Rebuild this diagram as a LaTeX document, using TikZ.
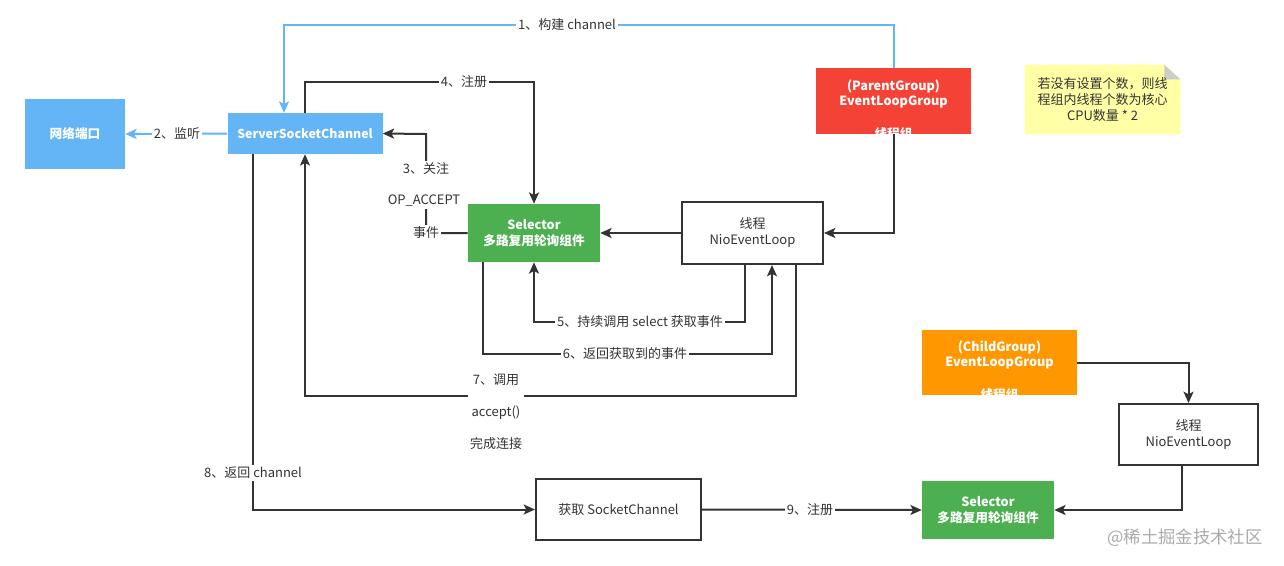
\documentclass[tikz,border=0pt]{standalone}
\usepackage{fontspec}
\setmainfont{Noto Sans CJK SC}
\usetikzlibrary{arrows.meta,calc}
\definecolor{cblue}{HTML}{64B5F6}
\definecolor{cred}{HTML}{F44336}
\definecolor{cgreen}{HTML}{4CAF50}
\definecolor{corange}{HTML}{FF9800}
\definecolor{cnote}{HTML}{FFFFA6}
\definecolor{cfold}{HTML}{CCCCCC}
\definecolor{cdark}{HTML}{333333}
\definecolor{cwm}{HTML}{ABABAB}
\begin{document}
\begin{tikzpicture}[x=0.75pt,y=-0.75pt,
  txt/.style={font=\fontsize{9.75}{12}\selectfont, text=cdark, inner sep=1pt},
  lbl/.style={txt, fill=white, inner sep=1.5pt},
  fillbox/.style={draw=none, text=white, font=\fontsize{9.5}{12}\selectfont\bfseries, align=center, inner sep=0pt},
  wtxt/.style={text=white, font=\fontsize{9.5}{12}\selectfont\bfseries, inner sep=0pt},
  plainbox/.style={draw=cdark, line width=1.5pt, fill=white, text=cdark, font=\fontsize{9.75}{12}\selectfont, align=center, inner sep=0pt},
  tip/.style={-{Stealth[length=8.5pt,width=7.5pt,inset=2pt]}},
  dl/.style={draw=cdark, line width=1.5pt, tip},
  bl/.style={draw=cblue, line width=1.5pt, tip},
]
\useasboundingbox (0,0) rectangle (1284,565);
\fill[white] (0,0) rectangle (1284,565);

% boxes
\node[fillbox, fill=cblue, minimum width=75pt, minimum height=52.5pt] (port) at (75,134) {网络端口};
\node[fillbox, fill=cblue, minimum width=116.25pt, minimum height=30.75pt, font=\fontsize{9.25}{12}\selectfont\bfseries] (ssc) at (305,133.5) {ServerSocketChannel};
\node[fillbox, fill=cred, minimum width=116.25pt, minimum height=49.5pt] (red) at (893.5,101) {};
\node[draw=none, minimum width=116.25pt, minimum height=51.75pt, inner sep=0pt] (note) at (1102.5,99.5) {};
\node[fillbox, fill=cgreen, minimum width=99pt, minimum height=43.5pt] (sel1) at (534,233) {Selector\\多路复用轮询组件};
\node[plainbox, minimum width=105.75pt, minimum height=46.5pt] (nel1) at (752.5,233) {线程\\NioEventLoop};
\node[fillbox, fill=corange, minimum width=116.25pt, minimum height=48.75pt] (orange) at (999.5,362.5) {};
\node[plainbox, minimum width=104.25pt, minimum height=45.75pt] (nel2) at (1188.5,434.5) {线程\\NioEventLoop};
\node[fillbox, fill=cgreen, minimum width=99pt, minimum height=43.5pt] (sel2) at (988,510) {Selector\\多路复用轮询组件};
\node[plainbox, minimum width=123.75pt, minimum height=45.75pt] (getsc) at (618.5,509.5) {获取 SocketChannel};

% group box texts (clipped)
\begin{scope}
\clip (red.south west) rectangle (red.north east);
\node[wtxt] (redt1) at (893.5,86) {(ParentGroup)};
\node[wtxt] (redt2) at (893.5,102) {EventLoopGroup};
\node[wtxt] (redt3) at (893.5,134) {线程组};
\end{scope}
\begin{scope}
\clip (orange.south west) rectangle (orange.north east);
\node[wtxt] (ort1) at (999.5,347) {(ChildGroup)};
\node[wtxt] (ort2) at (999.5,363) {EventLoopGroup};
\node[wtxt] (ort3) at (999.5,395) {线程组};
\end{scope}

% note
\fill[cnote] (note.north west) -- ([xshift=-12pt]note.north east) -- ([yshift=-11pt]note.north east) -- (note.south east) -- (note.south west) -- cycle;
\fill[cfold] ([xshift=-12pt]note.north east) -- ([yshift=-11pt]note.north east) -- ([xshift=-12pt,yshift=-11pt]note.north east) -- cycle;
\node[txt, align=center] (notet) at (1102.5,99.5) {若没有设置个数，则线\\程组内线程个数为核心\\CPU数量 * 2};

% coordinates
\coordinate (t1) at (284,25);
\coordinate (t3) at (426,134);
\coordinate (t4) at (305,82);
\coordinate (t5) at (745,322);
\coordinate (t6a) at (483,354);
\coordinate (t6b) at (772,354);
\coordinate (t7) at (796,396);
\coordinate (t8) at (253,509.5);
\coordinate (t13) at (1182,510);

% connectors
\draw[bl] (red.north) |- (t1) -- (t1 |- ssc.north);
\draw[bl] (ssc.west) -- (port.east);
\draw[dl] (sel1.west) -| (t3) -- (ssc.east);
\draw[dl] (t4 |- ssc.north) -- (t4) -| (sel1.north);
\draw[dl] (t5 |- nel1.south) -- (t5) -| (sel1.south);
\draw[dl] (t6a |- sel1.south) -- (t6a) -- (t6b) -- (t6b |- nel1.south);
\draw[dl] (t7 |- nel1.south) -- (t7) -| (ssc.south);
\draw[dl] (t8 |- ssc.south) -- (t8) -- (getsc.west);
\draw[dl] (getsc.east) -- (sel2.west);
\draw[dl] (nel1.west) -- (sel1.east);
\draw[dl] (red.south) |- (nel1.east);
\draw[dl] (orange.east) -| (nel2.north);
\draw[dl] (t13 |- nel2.south) -- (t13) -- (sel2.east);

% labels
\node[lbl] (l1) at (567,25) {1、构建 channel};
\node[lbl] (l2) at (177,134) {2、监听};
\node[fill=white, minimum width=9pt, minimum height=24pt, inner sep=0pt] (l3gap) at (426,186) {};
\node[lbl] (l3a) at (426,169) {3、关注};
\node[lbl] (l3b) at (424,201) {OP\_ACCEPT};
\node[lbl] (l3c) at (426,233) {事件};
\node[lbl] (l4) at (464,82) {4、注册};
\node[lbl] (l5) at (640,322) {5、持续调用 select 获取事件};
\node[lbl] (l6) at (625,354) {6、返回获取到的事件};
\node[lbl, align=center] (l7) at (496,412) {7、调用\\[12pt]accept()\\[12pt]完成连接};
\node[lbl] (l8) at (253,473) {8、返回 channel};
\node[lbl] (l9) at (810,510) {9、注册};

% watermark
\node[text=cwm, font=\fontsize{13}{15}\selectfont, inner sep=0pt] (wm) at (1185,538) {@稀土掘金技术社区};
\end{tikzpicture}
\end{document}
